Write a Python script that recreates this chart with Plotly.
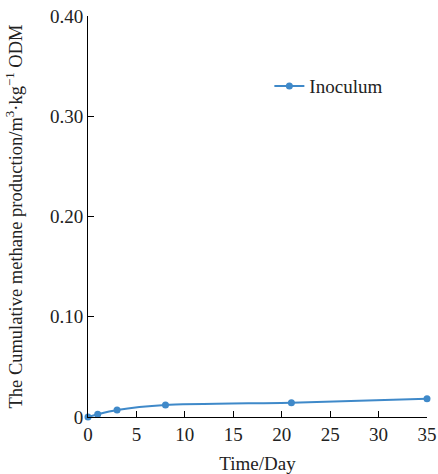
import plotly.graph_objects as go

days = [0, 1, 3, 8, 21, 35]
inoculum = [0.0, 0.0027, 0.007, 0.012, 0.0143, 0.0183]
x_ticks = [0, 5, 10, 15, 20, 25, 30, 35]
y_ticks = [0, 0.1, 0.2, 0.3, 0.4]
y_tick_labels = ["0", "0.10", "0.20", "0.30", "0.40"]

color = "#3f89c9"
font = "Liberation Serif, Times New Roman, serif"
txt = "#222222"

fig = go.Figure()
fig.add_trace(go.Scatter(
    x=days, y=inoculum, mode="lines+markers", name="Inoculum",
    line=dict(color=color, width=2, shape="spline", smoothing=0.6),
    marker=dict(color=color, size=7),
    cliponaxis=False,
))

fig.update_layout(
    width=438, height=474,
    margin=dict(l=88, r=11, t=16, b=57),
    paper_bgcolor="white", plot_bgcolor="white",
    font=dict(family=font, size=19, color=txt),
    showlegend=True,
    legend=dict(x=0.535, y=0.825, xanchor="left", yanchor="middle",
                bgcolor="rgba(0,0,0,0)", font=dict(size=19, family=font, color=txt)),
    xaxis=dict(
        range=[0, 35], tickvals=x_ticks, ticktext=[str(v) for v in x_ticks],
        ticks="inside", ticklen=6, tickcolor="black", showline=True, linecolor="black",
        linewidth=1, showgrid=False, zeroline=False, automargin=False,
        title=dict(text="Time/Day", font=dict(size=19, family=font, color=txt), standoff=12),
        tickfont=dict(size=19, family=font, color=txt),
    ),
    yaxis=dict(
        range=[0, 0.4], tickvals=y_ticks, ticktext=y_tick_labels,
        ticks="inside", ticklen=6, tickcolor="black", showline=True, linecolor="black",
        linewidth=1, showgrid=False, zeroline=False, automargin=False,
        title=dict(text="The Cumulative methane production/m<sup>3</sup>·kg<sup>−1</sup> ODM",
                   font=dict(size=18.5, family=font, color=txt), standoff=22),
        tickfont=dict(size=19, family=font, color=txt),
    ),
)

fig.write_html("out.html", config={"displayModeBar": False},
               post_script="document.body.style.margin='0';document.body.style.padding='0';")
